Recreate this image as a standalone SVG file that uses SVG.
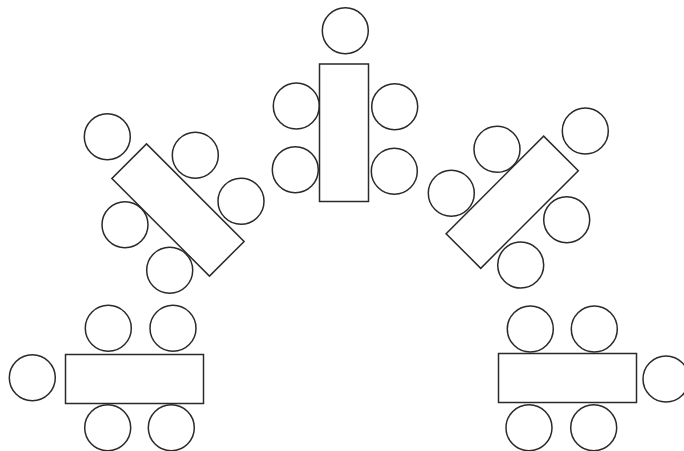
<svg xmlns="http://www.w3.org/2000/svg" width="684" height="451" viewBox="0 0 684 451">
<style>
rect,circle{fill:none;stroke:#2a2a2a;stroke-width:1.5}
</style>
<rect x="0" y="0" width="684" height="451" style="fill:#fff;stroke:none"/>
<g id="table-top">
<rect x="319.5" y="64" width="49" height="137.5"/>
<circle cx="345.3" cy="30.7" r="23"/>
<circle cx="296.3" cy="106" r="23"/>
<circle cx="295.3" cy="169.7" r="23"/>
<circle cx="394.7" cy="106.7" r="23"/>
<circle cx="394.3" cy="171.3" r="23"/>
</g>
<g id="table-left">
<rect x="-69" y="-24.5" width="138" height="49" transform="translate(178,210) rotate(45)"/>
<circle cx="107.3" cy="136.7" r="23"/>
<circle cx="195.3" cy="155.3" r="23"/>
<circle cx="241" cy="201.3" r="23"/>
<circle cx="125" cy="224.7" r="23"/>
<circle cx="169.7" cy="270.3" r="23"/>
</g>
<g id="table-right">
<rect x="-69" y="-24.5" width="138" height="49" transform="translate(512.2,202.2) rotate(-45)"/>
<circle cx="497" cy="149.3" r="23"/>
<circle cx="585.3" cy="131" r="23"/>
<circle cx="451.3" cy="193.3" r="23"/>
<circle cx="566.7" cy="219.7" r="23"/>
<circle cx="520.7" cy="265" r="23"/>
</g>
<g id="table-bottom-left">
<rect x="65.5" y="354.5" width="138" height="49"/>
<circle cx="32.3" cy="377.7" r="23"/>
<circle cx="108.3" cy="328.3" r="23"/>
<circle cx="173" cy="328.3" r="23"/>
<circle cx="107.7" cy="427.7" r="23"/>
<circle cx="171.3" cy="427.7" r="23"/>
</g>
<g id="table-bottom-right">
<rect x="498.5" y="353.5" width="138" height="49"/>
<circle cx="530.3" cy="329" r="23"/>
<circle cx="594.3" cy="329" r="23"/>
<circle cx="666" cy="379" r="23"/>
<circle cx="529" cy="427.7" r="23"/>
<circle cx="593.7" cy="427.7" r="23"/>
</g>
</svg>
